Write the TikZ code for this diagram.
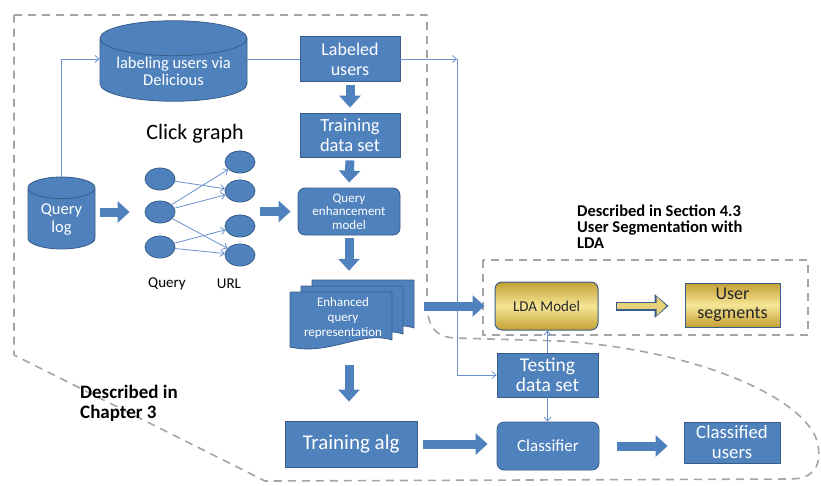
\documentclass[tikz,border=0pt]{standalone}
\usepackage{fontspec}
\setmainfont{Carlito}
\usetikzlibrary{arrows.meta,positioning,shapes.geometric}
\definecolor{boxblue}{RGB}{79,129,189}
\definecolor{edgeblue}{RGB}{56,93,138}
\definecolor{lineblue}{RGB}{105,145,205}
\definecolor{golddark}{RGB}{196,160,52}
\definecolor{goldlight}{RGB}{246,230,150}
\definecolor{regiongray}{RGB}{165,165,165}
\newcommand{\fsz}[2]{\fontsize{#1}{#2}\selectfont}
\tikzset{
  bluebox/.style={rectangle,draw=edgeblue,fill=boxblue,text=white,align=center,inner sep=1pt,line width=0.8pt},
  roundbox/.style={bluebox,rounded corners=7pt},
  goldbox/.style={rectangle,draw=edgeblue,top color=golddark,bottom color=golddark,middle color=goldlight,text=black!85,align=center,inner sep=1pt,line width=1pt},
  dbnode/.style={cylinder,shape border rotate=90,draw=edgeblue,fill=boxblue,text=white,align=center,inner sep=1pt,line width=0.8pt,anchor=shape center},
  graphnode/.style={ellipse,draw=edgeblue,fill=boxblue,minimum width=30pt,minimum height=22pt,inner sep=0pt,line width=0.8pt},
  blockarrow/.style={draw=boxblue,line width=9pt,-{Triangle[length=12pt,width=21pt]}},
  thinarrow/.style={draw=lineblue,line width=0.8pt,-{Straight Barb[length=4pt,width=7pt]}},
  thinline/.style={draw=lineblue,line width=0.8pt},
  region/.style={draw=regiongray,line width=1.6pt,dash pattern=on 8pt off 6pt},
  doclayer/.style={draw=edgeblue,fill=boxblue,line width=0.8pt},
  every picture/.style={line join=round}
}

\begin{document}
\begin{tikzpicture}[x=1pt,y=-1pt]
  \useasboundingbox (0,0) rectangle (821,485);
  % dashed regions
  \draw[region] (14,15) -- (427,15) -- (427,305) .. controls (428,330) and (438,337) .. (455,338)
    -- (560,341) .. controls (700,350) and (810,400) .. (818,445)
    .. controls (822,470) and (810,479) .. (790,479) -- (265,481) -- (14,355) -- cycle;
  \draw[region] (483,260) rectangle (808,335);
  \node[anchor=north west,inner sep=0pt,align=left,font=\bfseries\fsz{16.5}{16}] (sec43) at (577,205)
    {Described in Section 4.3\\User Segmentation with\\LDA};
  \node[anchor=north west,inner sep=0pt,align=left,font=\bfseries\fsz{19}{20}] (ch3) at (80,385)
    {Described in\\Chapter 3};

  % sources
  \node[dbnode,minimum width=147pt,minimum height=64pt,aspect=0.3,font=\fsz{16.5}{17}] (deli) at (173.5,61)
    {labeling users via\\Delicious};
  \node[dbnode,minimum width=67pt,minimum height=72pt,aspect=0.5,font=\fsz{16.5}{18}] (qlog) at (61.5,213)
    {Query\\log};

  % click graph
  \node[font=\fsz{22}{24}] (cgtitle) at (195,134) {Click graph};
  \node[graphnode] (q1) at (160,179) {};
  \node[graphnode] (q2) at (160,212) {};
  \node[graphnode] (q3) at (160,247) {};
  \node[graphnode] (u1) at (240,162) {};
  \node[graphnode] (u2) at (240,191) {};
  \node[graphnode] (u3) at (240,226) {};
  \node[graphnode] (u4) at (240,255) {};
  \foreach \a/\b in {q1/u2,q2/u1,q2/u2,q2/u4,q3/u3,q3/u4}
    \draw[thinarrow] (\a) -- (\b);
  \node[font=\fsz{15}{16}] (qlabel) at (167,284) {Query};
  \node[font=\fsz{15}{16}] (ulabel) at (229,284) {URL};

  % main column
  \node[bluebox,minimum width=100pt,minimum height=45pt,font=\fsz{18}{20}] (labeled) at (350,59) {Labeled\\users};
  \node[bluebox,minimum width=100pt,minimum height=44pt,font=\fsz{18.5}{20}] (trainset) at (350,135) {Training\\data set};
  \node[roundbox,minimum width=102pt,minimum height=47pt,font=\fsz{13}{13.5}] (qem) at (349,211.5)
    {Query\\enhancement\\model};
  \foreach \dx/\dy in {22/-12,11/-6,0/0}{
    \pgfmathsetmacro\dl{290+\dx}
    \pgfmathsetmacro\dt{292+\dy}
    \draw[doclayer] (\dl,\dt) -- (\dl+102,\dt) -- (\dl+102,\dt+48)
      .. controls (\dl+72,\dt+38) and (\dl+40,\dt+64) .. (\dl,\dt+55) -- cycle;
  }
  \node[minimum width=102pt,minimum height=50pt,inner sep=0pt,text=white,align=center,font=\fsz{13}{15}] (enh) at (343,318)
    {Enhanced\\query\\representation};
  \node[bluebox,minimum width=132pt,minimum height=46pt,font=\fsz{21}{24}] (trainalg) at (351,444) {Training alg};

  % right part
  \node[goldbox,rounded corners=7pt,minimum width=103pt,minimum height=48pt,font=\fsz{15}{16}] (lda) at (546.5,306) {LDA Model};
  \node[goldbox,minimum width=95pt,minimum height=44pt,font=\fsz{18}{19}] (seg) at (732.5,305) {User\\segments};
  \node[bluebox,minimum width=101pt,minimum height=44pt,font=\fsz{19.5}{20}] (testing) at (547.5,375) {Testing\\data set};
  \node[roundbox,minimum width=102pt,minimum height=48pt,font=\fsz{17}{18}] (classifier) at (548,446) {Classifier};
  \node[bluebox,minimum width=96pt,minimum height=41pt,font=\fsz{18.8}{20}] (classified) at (732,442.5) {Classified\\users};

  % thin connectors
  \coordinate (turn) at (457,59);
  \draw[thinarrow] (qlog.north) |- (deli.west |- labeled.west);
  \draw[thinline] (deli.east |- labeled.west) -- (labeled.west);
  \draw[thinarrow] (labeled.east) -- (turn);
  \draw[thinarrow] (turn) |- (testing.west);
  \draw[thinarrow] (testing.north) -- (testing.north |- lda.south);
  \draw[thinarrow] (testing.south) -- (testing.south |- classifier.north);

  % block arrows
  \draw[blockarrow,shorten <=5pt,shorten >=15pt] (qlog.east |- q2) -- (q2.west);
  \draw[blockarrow,shorten <=5pt,shorten >=7pt] (u2.east |- qem.west) -- (qem.west);
  \draw[blockarrow,shorten <=3pt,shorten >=5pt] (labeled.south) -- (trainset.north);
  \draw[blockarrow,shorten <=3pt,shorten >=5pt] (trainset.south) -- (qem.north);
  \draw[blockarrow,shorten <=3pt,shorten >=22pt] (qem.south) -- (qem.south |- enh.north);
  \draw[blockarrow,shorten <=22pt,shorten >=19pt] (qem.south |- enh.south) -- (qem.south |- trainalg.north);
  \draw[blockarrow,shorten <=30pt,shorten >=10pt] (enh.east |- lda.west) -- (lda.west);
  \draw[blockarrow,shorten <=6pt,shorten >=9pt] (trainalg.east) -- (trainalg.east -| classifier.west);
  \draw[blockarrow,shorten <=18pt,shorten >=16pt] (classifier.east) -- (classifier.east -| classified.west);
  \draw[draw=edgeblue,line width=9pt,-{Triangle[length=14pt,width=23pt]},shorten <=17pt,shorten >=16pt]
    (lda.east) -- (lda.east -| seg.west);
  \draw[draw=goldlight!70!golddark,line width=6.5pt,-{Triangle[length=10pt,width=18.5pt]},shorten <=18pt,shorten >=18pt]
    (lda.east) -- (lda.east -| seg.west);
\end{tikzpicture}
\end{document}
